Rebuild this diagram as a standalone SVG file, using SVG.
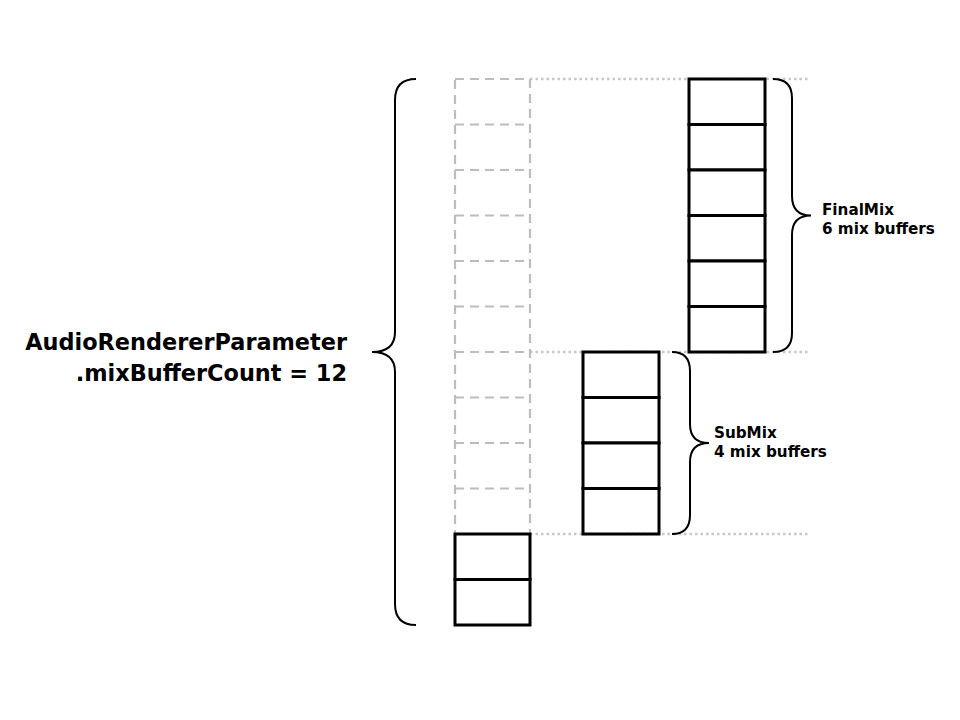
<svg xmlns="http://www.w3.org/2000/svg" width="960" height="720" viewBox="0 0 960 720">
<style>
.dot{stroke:#c8c8c8;stroke-width:2.5;stroke-dasharray:2.5,3;fill:none}
.dash{stroke:#bdbdbd;stroke-width:2.2;stroke-dasharray:9,6;fill:none}
.cell{stroke:#000;stroke-width:3;fill:#fff}
.brace{stroke:#000;stroke-width:2;fill:none}
.big{font-family:"DejaVu Sans",Verdana,sans-serif;font-weight:bold;font-size:22.4px;fill:#000}
.lbl{font-family:"DejaVu Sans",Verdana,sans-serif;font-weight:bold;font-size:15.2px;fill:#000}
</style>
<rect width="960" height="720" fill="#fff"/>
<g id="connectors">
<line class="dot" x1="530" y1="79" x2="810" y2="79"/>
<line class="dot" x1="530" y1="352" x2="810" y2="352"/>
<line class="dot" x1="530" y1="534" x2="810" y2="534"/>
</g>
<g id="unused-buffers">
<rect class="dash" x="455" y="79" width="75" height="455"/>
<line class="dash" x1="455" y1="124.5" x2="530" y2="124.5"/>
<line class="dash" x1="455" y1="170" x2="530" y2="170"/>
<line class="dash" x1="455" y1="215.5" x2="530" y2="215.5"/>
<line class="dash" x1="455" y1="261" x2="530" y2="261"/>
<line class="dash" x1="455" y1="306.5" x2="530" y2="306.5"/>
<line class="dash" x1="455" y1="352" x2="530" y2="352"/>
<line class="dash" x1="455" y1="397.5" x2="530" y2="397.5"/>
<line class="dash" x1="455" y1="443" x2="530" y2="443"/>
<line class="dash" x1="455" y1="488.5" x2="530" y2="488.5"/>
</g>
<g id="bottom-buffers">
<rect class="cell" x="455" y="534" width="75" height="45.5"/>
<rect class="cell" x="455" y="579.5" width="75" height="45.5"/>
</g>
<g id="finalmix">
<rect class="cell" x="689" y="79" width="76" height="45.5"/>
<rect class="cell" x="689" y="124.5" width="76" height="45.5"/>
<rect class="cell" x="689" y="170" width="76" height="45.5"/>
<rect class="cell" x="689" y="215.5" width="76" height="45.5"/>
<rect class="cell" x="689" y="261" width="76" height="45.5"/>
<rect class="cell" x="689" y="306.5" width="76" height="45.5"/>
</g>
<g id="submix">
<rect class="cell" x="583" y="352" width="76" height="45.5"/>
<rect class="cell" x="583" y="397.5" width="76" height="45.5"/>
<rect class="cell" x="583" y="443" width="76" height="45.5"/>
<rect class="cell" x="583" y="488.5" width="76" height="45.5"/>
</g>
<g id="brace-total">
<path class="brace" d="M416,79 Q395,79 395,100 L395,332 Q395,352 372,352 Q395,352 395,372 L395,604 Q395,625 416,625"/>
<text class="big" x="347" y="350" text-anchor="end">AudioRendererParameter</text>
<text class="big" x="347" y="381" text-anchor="end">.mixBufferCount = 12</text>
</g>
<g id="brace-finalmix">
<path class="brace" d="M773,79 Q792,79 792,98 L792,196 Q792,215.5 811,215.5 Q792,215.5 792,235 L792,333 Q792,352 773,352"/>
<text class="lbl" x="822" y="215">FinalMix</text>
<text class="lbl" x="822" y="234">6 mix buffers</text>
</g>
<g id="brace-submix">
<path class="brace" d="M672,352 Q690,352 690,371 L690,424 Q690,443 709,443 Q690,443 690,462 L690,515 Q690,534 672,534"/>
<text class="lbl" x="714" y="438">SubMix</text>
<text class="lbl" x="714" y="457">4 mix buffers</text>
</g>
</svg>
